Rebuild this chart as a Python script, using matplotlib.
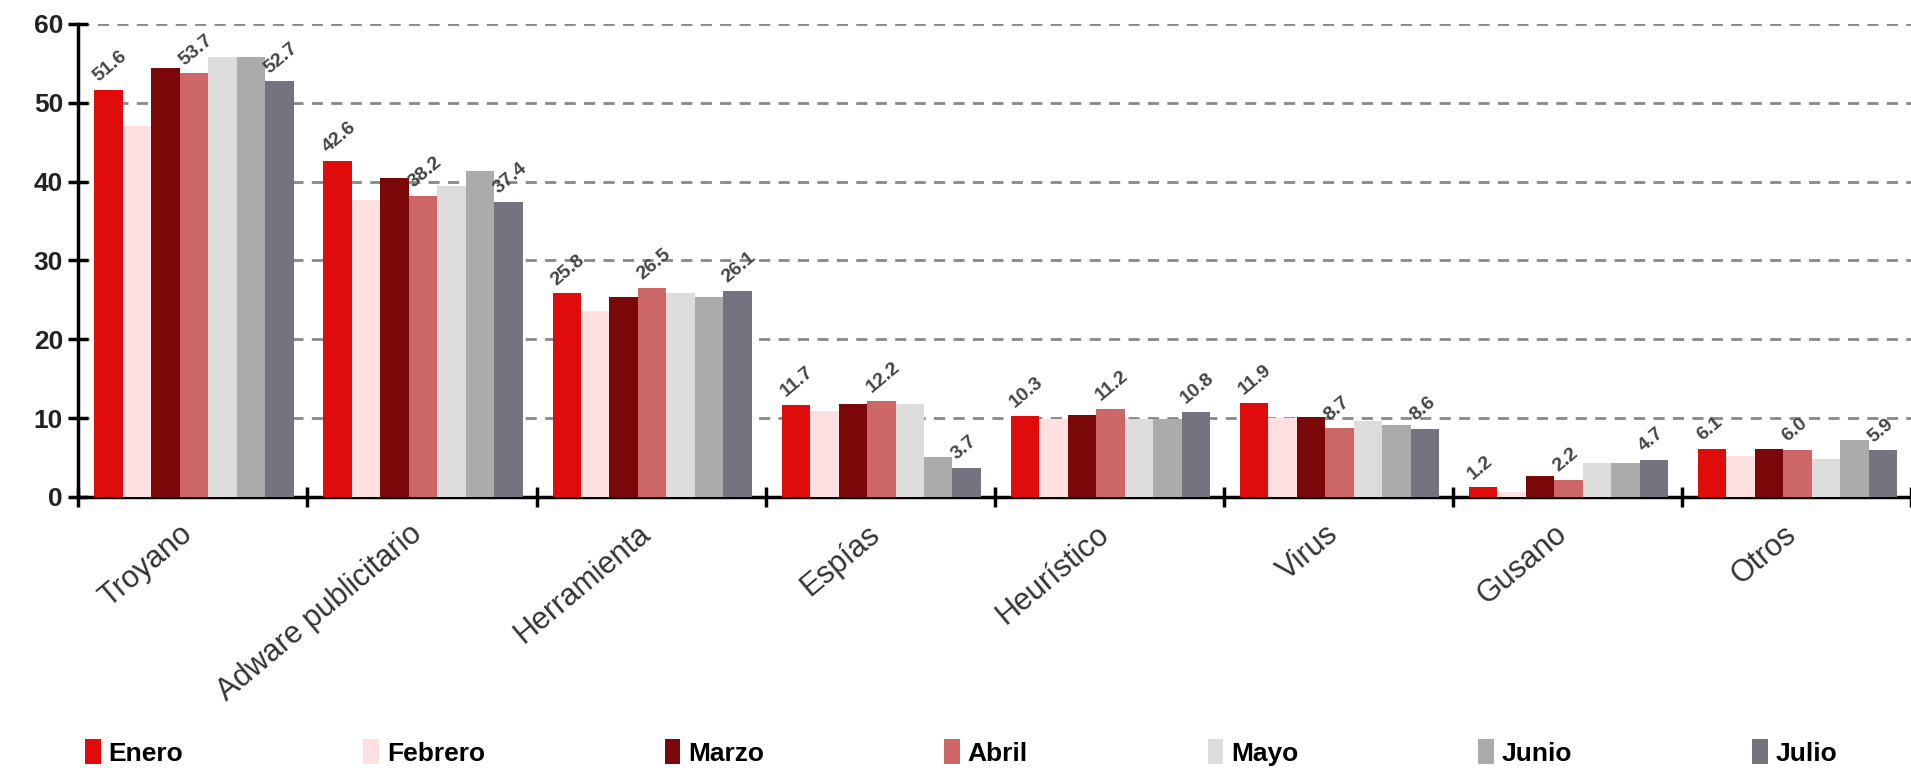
import numpy as np
import matplotlib.pyplot as plt
from matplotlib.patches import Patch

plt.rcParams["font.family"] = ["Liberation Sans", "DejaVu Sans"]

categories = ["Troyano", "Adware publicitario", "Herramienta", "Espías",
              "Heurístico", "Virus", "Gusano", "Otros"]
months = ["Enero", "Febrero", "Marzo", "Abril", "Mayo", "Junio", "Julio"]

enero = [51.6, 42.6, 25.8, 11.7, 10.3, 11.9, 1.2, 6.1]
febrero = [47.0, 37.7, 23.6, 10.9, 9.9, 10.0, 0.6, 5.2]
marzo = [54.4, 40.4, 25.4, 11.8, 10.4, 10.1, 2.6, 6.1]
abril = [53.7, 38.2, 26.5, 12.2, 11.2, 8.7, 2.2, 6.0]
mayo = [55.8, 39.4, 25.9, 11.8, 9.9, 9.6, 4.3, 4.8]
junio = [55.8, 41.3, 25.4, 5.1, 9.9, 9.1, 4.3, 7.2]
julio = [52.7, 37.4, 26.1, 3.7, 10.8, 8.6, 4.7, 5.9]

series = [enero, febrero, marzo, abril, mayo, junio, julio]
colors = ["#e00b0b", "#ffe0e0", "#7a0808", "#cd6767", "#dcdcdc", "#ababab", "#74737f"]
labelled = [0, 3, 6]  # only Enero, Abril and Julio carry value labels

fig = plt.figure(figsize=(19.11, 7.68), dpi=100)
ax = fig.add_axes([0.041, 0.353, 0.959, 0.616])

x = np.arange(len(categories))
w = 0.87 / 7
for i, (vals, c) in enumerate(zip(series, colors)):
    pos = x + 0.07 + w * i + w / 2
    ax.bar(pos, vals, width=w, color=c, zorder=3)
    if i in labelled:
        for px, v in zip(pos, vals):
            ax.text(px - w / 2 + 0.03, v + 0.6, f"{v:.1f}", rotation=40,
                    rotation_mode="anchor", ha="left", va="bottom",
                    fontsize=14, fontweight="bold", color="#444444", zorder=4)

ax.set_xlim(0, len(categories))
ax.set_ylim(0, 60)
ax.set_yticks(range(0, 61, 10))
ax.set_xticks(range(len(categories) + 1))
ax.set_xticklabels([])
for i, cat in enumerate(categories):
    ax.text(i + 0.44, -2.8, cat, rotation=40, rotation_mode="anchor",
            ha="right", va="top", fontsize=22, color="#333333")

ax.yaxis.grid(True, linestyle=(0, (4, 3)), color="#888888", linewidth=2, zorder=0)
ax.spines["top"].set_visible(False)
ax.spines["right"].set_visible(False)
ax.spines["left"].set_linewidth(2.5)
ax.spines["bottom"].set_linewidth(2.5)
ax.tick_params(axis="y", direction="inout", length=14, width=2.5,
               labelsize=19, pad=4)
ax.tick_params(axis="x", direction="inout", length=14, width=2.5)
for t in ax.get_yticklabels():
    t.set_fontweight("bold")
    t.set_color("#222222")

handles = [Patch(facecolor=c, label=m) for c, m in zip(colors, months)]
fig.legend(handles=handles, ncol=7, loc="lower left", mode="expand",
           bbox_to_anchor=(0.032, -0.028, 0.942, 0.05), frameon=False,
           handlelength=0.6, handleheight=1.1, handletextpad=0.3,
           prop={"size": 19, "weight": "bold"})

fig.savefig("out.png", dpi=100)
